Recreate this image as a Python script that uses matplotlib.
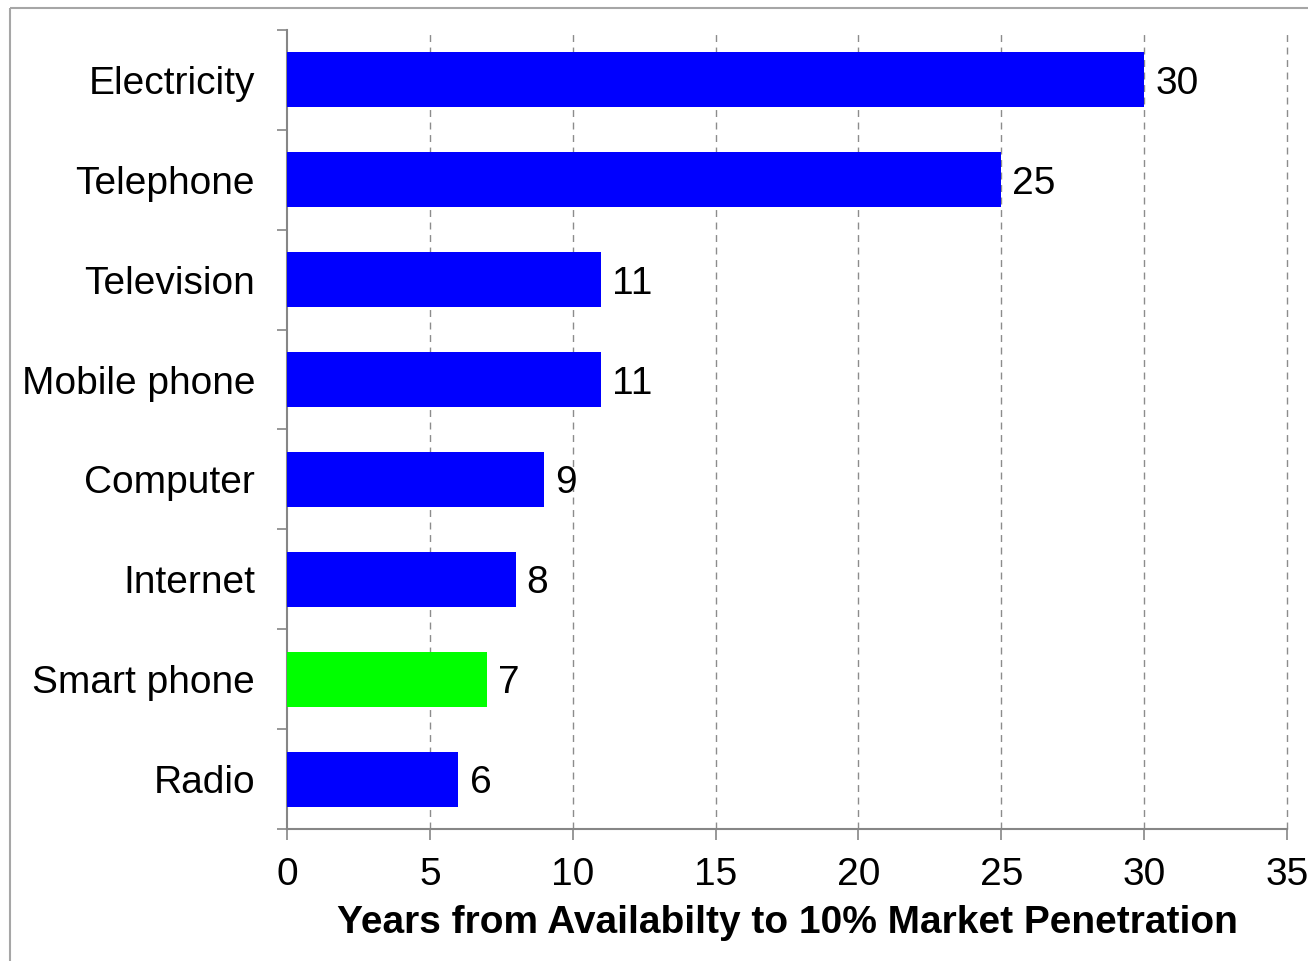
import matplotlib
matplotlib.use("Agg")
import matplotlib.pyplot as plt
from matplotlib.patches import Rectangle
from matplotlib.ticker import FixedLocator

plt.rcParams['font.family'] = ['Liberation Sans', 'DejaVu Sans']

categories = ["Electricity", "Telephone", "Television", "Mobile phone",
              "Computer", "Internet", "Smart phone", "Radio"]
years = [30, 25, 11, 11, 9, 8, 7, 6]
colors = ["#0000FF", "#0000FF", "#0000FF", "#0000FF",
          "#0000FF", "#0000FF", "#00FF00", "#0000FF"]
xticks = [0, 5, 10, 15, 20, 25, 30, 35]
xlabel = "Years from Availabilty to 10% Market Penetration"

W, H = 1308, 961
fig = plt.figure(figsize=(W / 100, H / 100), dpi=100)
fig.patches.append(Rectangle((10 / W, 1 - 8 / H), 1.2, -1.2, transform=fig.transFigure,
                             fill=False, edgecolor="#a6a6a6", linewidth=1.5))

ax = fig.add_axes([287 / W, (H - 829) / H, 1000 / W, 799 / H])
ypos = list(range(len(categories)))
ax.barh(ypos, years, height=0.55, color=colors, zorder=3)
ax.set_ylim(len(categories) - 0.5, -0.5)
ax.set_xlim(0, 35)

ax.set_yticks(ypos)
ax.set_yticklabels(categories, fontsize=28)
ax.yaxis.set_minor_locator(FixedLocator([i - 0.5 for i in range(len(categories) + 1)]))
ax.tick_params(axis='y', which='major', length=0, pad=23)
ax.tick_params(axis='y', which='minor', length=7, width=1.2, color="#868686", direction='out')

ax.set_xticks(xticks)
ax.set_xticklabels([str(v) for v in xticks], fontsize=28)
ax.tick_params(axis='x', which='major', length=8, width=1.2, color="#868686", pad=12)

for y, v in zip(ypos, years):
    ax.annotate(str(v), (v, y), xytext=(8, 0), textcoords='offset points',
                ha='left', va='center_baseline', fontsize=28, zorder=4)

ax.set_xlabel(xlabel, fontsize=28, fontweight='bold', labelpad=9)

for xv in xticks[1:]:
    ax.axvline(xv, linestyle=(0, (5, 4)), color="#8c8c8c", linewidth=1.0,
               zorder=0, clip_on=False)
ax.spines['top'].set_visible(False)
ax.spines['right'].set_visible(False)
for s in ('left', 'bottom'):
    ax.spines[s].set_color("#868686")
    ax.spines[s].set_linewidth(1.5)

fig.savefig("out.png", dpi=100)
